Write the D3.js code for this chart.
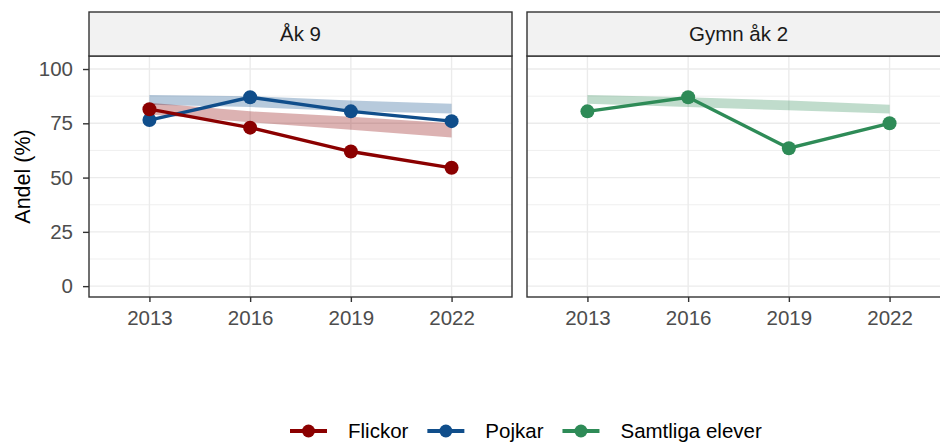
<!DOCTYPE html>
<html>
<head>
<meta charset="utf-8">
<script src="https://cdn.jsdelivr.net/npm/d3@7"></script>
<style>
  body { margin: 0; background: #fff; }
  svg { display: block; font-family: "Liberation Sans", Arial, sans-serif; }
</style>
</head>
<body>
<script>
const years = ['2013', '2016', '2019', '2022'];
const yTicks = [0, 25, 50, 75, 100];
const yMinor = [12.5, 37.5, 62.5, 87.5];

// Åk 9
const flickor = [81.5, 73, 62, 54.5];
const pojkar = [76.5, 87, 80.5, 76];
const flickorLow = [79, 75.5, 72, 68.5];
const flickorHigh = [84.5, 80.5, 78, 75];
const pojkarLow = [83.5, 82.5, 80.5, 79.5];
const pojkarHigh = [88, 87.5, 85.5, 84];

// Gymn åk 2
const samtliga = [80.5, 87, 63.5, 75];
const samtligaLow = [84, 82.5, 81, 79.5];
const samtligaHigh = [88, 87, 85.5, 83.5];

const colors = {Flickor: '#8B0000', Pojkar: '#104E8B', 'Samtliga elever': '#2E8B57'};

// series listed in drawing order (last on top)
const panels = [
  {title: 'Åk 9', left: 89, series: [
    {name: 'Pojkar', values: pojkar, low: pojkarLow, high: pojkarHigh},
    {name: 'Flickor', values: flickor, low: flickorLow, high: flickorHigh}
  ]},
  {title: 'Gymn åk 2', left: 527, series: [
    {name: 'Samtliga elever', values: samtliga, low: samtligaLow, high: samtligaHigh}
  ]}
];

const width = 940, height = 443;
const panelW = 423, stripTop = 12, stripBottom = 56, panelBottom = 297;

const svg = d3.select('body').append('svg')
  .attr('width', width)
  .attr('height', height);

const y = d3.scaleLinear()
  .domain([-5, 106])
  .range([panelBottom, stripBottom]);

panels.forEach((p, i) => {
  const x = d3.scalePoint()
    .domain(years)
    .range([p.left, p.left + panelW])
    .padding(0.6);

  const g = svg.append('g');

  // grid
  g.selectAll('.minor').data(yMinor).enter().append('line')
    .attr('x1', p.left).attr('x2', p.left + panelW)
    .attr('y1', d => y(d)).attr('y2', d => y(d))
    .attr('stroke', '#EBEBEB').attr('stroke-width', 0.8);
  g.selectAll('.major').data(yTicks).enter().append('line')
    .attr('x1', p.left).attr('x2', p.left + panelW)
    .attr('y1', d => y(d)).attr('y2', d => y(d))
    .attr('stroke', '#EBEBEB').attr('stroke-width', 1.4);
  g.selectAll('.vmajor').data(years).enter().append('line')
    .attr('x1', d => x(d)).attr('x2', d => x(d))
    .attr('y1', stripBottom).attr('y2', panelBottom)
    .attr('stroke', '#EBEBEB').attr('stroke-width', 1.4);

  // ribbons
  p.series.forEach(s => {
    const area = d3.area()
      .x((d, j) => x(years[j]))
      .y0((d, j) => y(s.low[j]))
      .y1((d, j) => y(s.high[j]));
    g.append('path')
      .attr('d', area(s.values))
      .attr('fill', colors[s.name])
      .attr('fill-opacity', 0.3);
  });

  // lines
  p.series.forEach(s => {
    const line = d3.line()
      .x((d, j) => x(years[j]))
      .y(d => y(d));
    g.append('path')
      .attr('d', line(s.values))
      .attr('fill', 'none')
      .attr('stroke', colors[s.name])
      .attr('stroke-width', 3.4);
  });

  // points
  p.series.forEach(s => {
    g.selectAll(null).data(s.values).enter().append('circle')
      .attr('cx', (d, j) => x(years[j]))
      .attr('cy', d => y(d))
      .attr('r', 7)
      .attr('fill', colors[s.name]);
  });

  // panel border
  g.append('rect')
    .attr('x', p.left).attr('y', stripBottom)
    .attr('width', panelW).attr('height', panelBottom - stripBottom)
    .attr('fill', 'none').attr('stroke', '#333333').attr('stroke-width', 1.4);

  // strip
  g.append('rect')
    .attr('x', p.left).attr('y', stripTop)
    .attr('width', panelW).attr('height', stripBottom - stripTop)
    .attr('fill', '#F2F2F2').attr('stroke', '#333333').attr('stroke-width', 1.4);
  g.append('text')
    .attr('x', p.left + panelW / 2)
    .attr('y', (stripTop + stripBottom) / 2)
    .attr('dy', '0.36em')
    .attr('text-anchor', 'middle')
    .attr('font-size', 20.5)
    .attr('fill', '#1A1A1A')
    .text(p.title);

  // x axis
  const xAxis = g.append('g')
    .attr('transform', `translate(0,${panelBottom})`)
    .call(d3.axisBottom(x).tickSize(5).tickPadding(8));
  xAxis.select('.domain').remove();
  xAxis.selectAll('.tick line').attr('stroke', '#333333').attr('stroke-width', 1.4);
  xAxis.selectAll('.tick text').attr('font-size', 20.5).attr('fill', '#4D4D4D');

  // y axis only on the first panel
  if (i === 0) {
    const yAxis = g.append('g')
      .attr('transform', `translate(${p.left},0)`)
      .call(d3.axisLeft(y).tickValues(yTicks).tickSize(6).tickPadding(10));
    yAxis.select('.domain').remove();
    yAxis.selectAll('.tick line').attr('stroke', '#333333').attr('stroke-width', 1.4);
    yAxis.selectAll('.tick text').attr('font-size', 20.5).attr('fill', '#4D4D4D');
  }
});

// y title
svg.append('text')
  .attr('transform', `translate(30,${(stripBottom + panelBottom) / 2}) rotate(-90)`)
  .attr('text-anchor', 'middle')
  .attr('font-size', 21.5)
  .attr('fill', '#000')
  .text('Andel (%)');

// legend
const legendNames = ['Flickor', 'Pojkar', 'Samtliga elever'];
const legend = svg.append('g');
let cx = 0;
const legendY = 431;
legendNames.forEach(name => {
  const item = legend.append('g').attr('transform', `translate(${cx},0)`);
  item.append('line')
    .attr('x1', 0).attr('x2', 37)
    .attr('y1', legendY).attr('y2', legendY)
    .attr('stroke', colors[name]).attr('stroke-width', 4);
  item.append('circle')
    .attr('cx', 18.5).attr('cy', legendY).attr('r', 6.5)
    .attr('fill', colors[name]);
  const t = item.append('text')
    .attr('x', 58).attr('y', legendY)
    .attr('dy', '0.36em')
    .attr('font-size', 20.5)
    .attr('fill', '#000')
    .text(name);
  cx += 58 + t.node().getComputedTextLength() + 19;
});
legend.attr('transform', 'translate(290,0)');
</script>
</body>
</html>
